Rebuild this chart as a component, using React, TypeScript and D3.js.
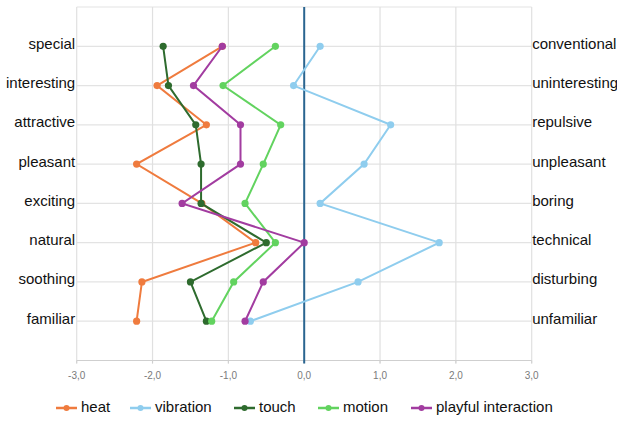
import React from "react";
import * as d3 from "d3";

const leftLabels = ["special", "interesting", "attractive", "pleasant", "exciting", "natural", "soothing", "familiar"];
const rightLabels = ["conventional", "uninteresting", "repulsive", "unpleasant", "boring", "technical", "disturbing", "unfamiliar"];
const xTicks = [-3, -2, -1, 0, 1, 2, 3];

const heat = [-1.08, -1.94, -1.29, -2.21, -1.35, -0.64, -2.14, -2.21];
const vibration = [0.21, -0.14, 1.14, 0.79, 0.21, 1.78, 0.71, -0.71];
const touch = [-1.86, -1.79, -1.43, -1.36, -1.36, -0.5, -1.5, -1.29];
const motion = [-0.38, -1.07, -0.31, -0.54, -0.78, -0.38, -0.93, -1.22];
const playful = [-1.08, -1.46, -0.84, -0.84, -1.61, 0.0, -0.54, -0.78];

const seriesNames = ["heat", "vibration", "touch", "motion", "playful interaction"];
const seriesColors = ["#EF7B3E", "#8FCDEE", "#2E6B2E", "#62D35F", "#A23CA0"];

export default function App() {
  const W = 617, H = 421;
  const left = 76.7, right = 531.7, top = 7, bottom = 360.5;
  const x = d3.scaleLinear().domain([-3, 3]).range([left, right]);
  const y = d3.scaleLinear().domain([0, 9]).range([top, bottom]);
  const data = [heat, vibration, touch, motion, playful];
  const line = d3.line<number>().x((d) => x(d)).y((_, i) => y(i + 1));
  const font = "Liberation Sans, Arial, sans-serif";
  const legendX = [56, 130, 234, 318, 411];

  return (
    <svg width={W} height={H} style={{ position: "absolute", left: 0, top: 0 }} fontFamily={font}>
      <rect width={W} height={H} fill="#fff" />
      {/* horizontal grid */}
      <line x1={left} x2={right} y1={top} y2={top} stroke="#e3e3e3" strokeWidth={1} />
      {leftLabels.map((_, i) => (
        <line key={"h" + i} x1={left} x2={right} y1={y(i + 1)} y2={y(i + 1)} stroke="#e3e3e3" strokeWidth={1.2} />
      ))}
      {/* vertical grid */}
      {xTicks.filter((t) => t !== 0).map((t) => (
        <line key={"v" + t} x1={x(t)} x2={x(t)} y1={top} y2={bottom + 3} stroke="#e0e0e0" strokeWidth={1.2} />
      ))}
      {/* axis */}
      <line x1={left} x2={right} y1={bottom} y2={bottom} stroke="#cfcfcf" strokeWidth={1.2} />
      {xTicks.map((t) => (
        <line key={"t" + t} x1={x(t)} x2={x(t)} y1={bottom} y2={bottom + 3} stroke="#cfcfcf" strokeWidth={1} />
      ))}
      {xTicks.map((t) => (
        <text key={"l" + t} x={x(t)} y={378.5} textAnchor="middle" fontSize={10} fill="#7a7a7a">
          {d3.format(".1f")(t).replace(".", ",").replace("−", "-")}
        </text>
      ))}
      {/* zero line */}
      <line x1={x(0)} x2={x(0)} y1={top} y2={bottom + 3} stroke="#2A6590" strokeWidth={2} />
      {/* labels */}
      {leftLabels.map((l, i) => (
        <text key={"ll" + i} x={left - 1.5} y={y(i + 1) - 1.5} textAnchor="end" dominantBaseline="middle" fontSize={15} fill="#111">
          {l}
        </text>
      ))}
      {rightLabels.map((l, i) => (
        <text key={"rl" + i} x={right + 0.5} y={y(i + 1) - 1.5} textAnchor="start" dominantBaseline="middle" fontSize={15} fill="#111">
          {l}
        </text>
      ))}
      {/* series */}
      {data.map((s, k) => (
        <g key={"s" + k}>
          <path d={line(s) || ""} fill="none" stroke={seriesColors[k]} strokeWidth={2} />
          {s.map((v, i) => (
            <circle key={i} cx={x(v)} cy={y(i + 1)} r={3.6} fill={seriesColors[k]} />
          ))}
        </g>
      ))}
      {/* legend */}
      {seriesNames.map((n, k) => (
        <g key={"lg" + k}>
          <line x1={legendX[k]} x2={legendX[k] + 21} y1={408} y2={408} stroke={seriesColors[k]} strokeWidth={2.5} />
          <circle cx={legendX[k] + 10.5} cy={408} r={3} fill={seriesColors[k]} />
          <text x={legendX[k] + 25} y={408} dominantBaseline="middle" fontSize={15} fill="#111">
            {n}
          </text>
        </g>
      ))}
    </svg>
  );
}
